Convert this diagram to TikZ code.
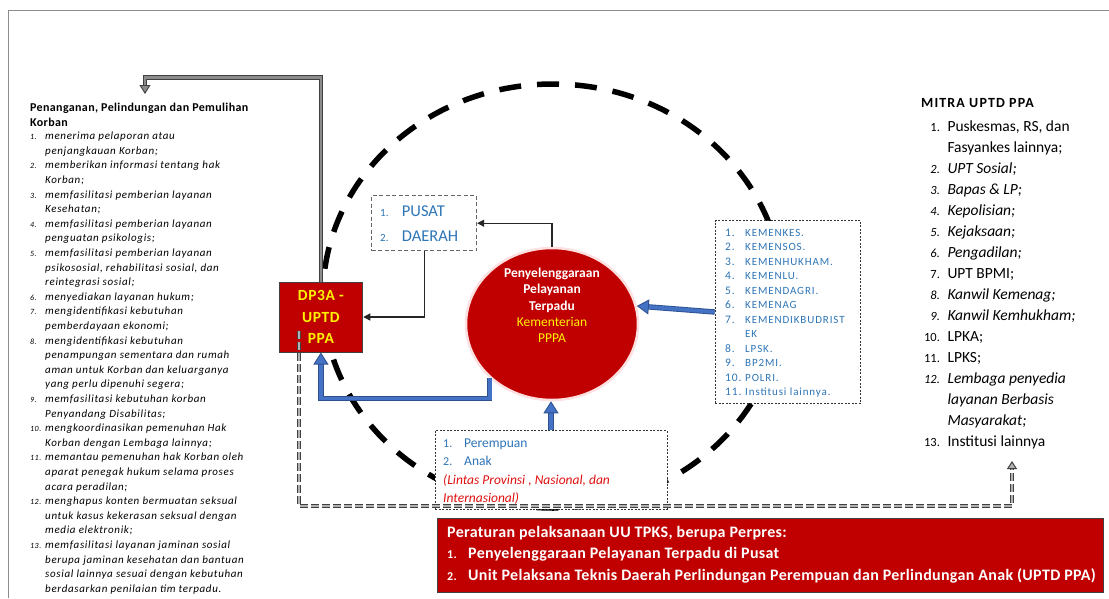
\documentclass[tikz,border=0pt]{standalone}
\usepackage{fontspec}
\setmainfont{Carlito}
\usetikzlibrary{shapes.geometric,arrows.meta,positioning}

\definecolor{ppared}{HTML}{C00000}
\definecolor{ppayellow}{HTML}{FFF200}
\definecolor{ppablue}{HTML}{2E75B6}
\definecolor{arrowblue}{HTML}{4472C4}
\definecolor{arrowbluedark}{HTML}{2F528F}
\definecolor{notered}{HTML}{E01010}

\newcommand{\spaced}[1]{\addfontfeature{LetterSpace=#1}}
\newcommand{\lnum}[1]{\makebox[15pt][l]{\fontsize{8}{9}\selectfont #1}}
\newcommand{\knum}[1]{\makebox[20pt][l]{\fontsize{11.5}{12}\selectfont #1}}
\newcommand{\pnum}[1]{\makebox[21.7pt][l]{\fontsize{11}{12}\selectfont #1}}
\newcommand{\anum}[1]{\makebox[21pt][l]{\fontsize{12}{12}\selectfont #1}}
\newcommand{\bnum}[1]{\makebox[21pt][l]{\fontsize{12}{12}\selectfont #1}}
\newcommand{\mnum}[1]{\makebox[25.6pt][l]{\makebox[18pt][r]{\fontsize{12.5}{14}\selectfont #1}}}

\begin{document}
\begin{tikzpicture}[x=1pt,y=-1pt,
  frame/.style={draw=black!45, line width=0.8pt},
  ring/.style={draw=black, line width=5.5pt, dash pattern=on 22pt off 16pt},
  redbox/.style={draw=black!75, fill=ppared, line width=1pt},
  dashbox/.style={draw=black!60, fill=white, line width=0.9pt, dash pattern=on 4pt off 2.5pt},
  dotbox/.style={draw=black!80, fill=white, line width=0.8pt, dash pattern=on 2pt off 1.5pt},
  listtext/.style={anchor=north west, inner sep=0pt},
  thinarrow/.style={draw=black!85, line width=1.2pt, -{Triangle[width=7pt,length=7pt]}},
  bluepipe/.style={draw=arrowbluedark, double=arrowblue, line width=0.9pt, double distance=3.6pt,
    -{Triangle[width=15pt,length=12pt,fill=arrowblue]}},
  graypipe/.style={draw=black!75, double=black!45, line width=0.9pt, double distance=2.6pt,
    -{Triangle[width=11pt,length=9pt,fill=black!45]}},
  graydash/.style={draw=black!75, double=gray!60, line width=1pt, double distance=2.8pt,
    dash pattern=on 8pt off 3pt, -{Triangle[width=10pt,length=8pt,fill=gray!60]}}]
\useasboundingbox (0,0) rectangle (1109,598);
\draw[frame] (8,598) -- (8,10) -- (1109,10);

% dashed ring round the centre
\draw[ring] (553,296) ellipse [x radius=230, y radius=212];

% left column
\node[listtext, font=\fontsize{12}{15}\selectfont\bfseries\spaced{3}] (penanganan) at (30,100.5)
  {\begin{tabular}{@{}l@{}}Penanganan, Pelindungan dan Pemulihan\\Korban\end{tabular}};
\node[listtext, font=\fontsize{11}{14.6}\selectfont\itshape\spaced{6}] (tugas) at (30,129.3) {%
\begin{tabular}{@{}l@{}l@{}}
\lnum{1.} & menerima pelaporan atau\\
 & penjangkauan Korban;\\
\lnum{2.} & memberikan informasi tentang hak\\
 & Korban;\\
\lnum{3.} & memfasilitasi pemberian layanan\\
 & Kesehatan;\\
\lnum{4.} & memfasilitasi pemberian layanan\\
 & penguatan psikologis;\\
\lnum{5.} & memfasilitasi pemberian layanan\\
 & psikososial, rehabilitasi sosial, dan\\
 & reintegrasi sosial;\\
\lnum{6.} & menyediakan layanan hukum;\\
\lnum{7.} & mengidentifikasi kebutuhan\\
 & pemberdayaan ekonomi;\\
\lnum{8.} & mengidentifikasi kebutuhan\\
 & penampungan sementara dan rumah\\
 & aman untuk Korban dan keluarganya\\
 & yang perlu dipenuhi segera;\\
\lnum{9.} & memfasilitasi kebutuhan korban\\
 & Penyandang Disabilitas;\\
\lnum{10.} & mengkoordinasikan pemenuhan Hak\\
 & Korban dengan Lembaga lainnya;\\
\lnum{11.} & memantau pemenuhan hak Korban oleh\\
 & aparat penegak hukum selama proses\\
 & acara peradilan;\\
\lnum{12.} & menghapus konten bermuatan seksual\\
 & untuk kasus kekerasan seksual dengan\\
 & media elektronik;\\
\lnum{13.} & memfasilitasi layanan jaminan sosial\\
 & berupa jaminan kesehatan dan bantuan\\
 & sosial lainnya sesuai dengan kebutuhan\\
 & berdasarkan penilaian tim terpadu.
\end{tabular}};
\coordinate (handin) at (145,94);

% DP3A - UPTD PPA
\node[redbox, minimum width=83.7pt, minimum height=70pt, text=ppayellow, align=center,
  font=\fontsize{15.5}{21.5}\selectfont\bfseries\spaced{4}] (dp3a) at (320.9,317) {DP3A -\\UPTD\\PPA};

% pusat / daerah
\node[dashbox, minimum width=105pt, minimum height=55pt] (pusat) at (424.2,223.2) {};
\node[listtext, text=ppablue, font=\fontsize{16.5}{24.5}\selectfont] (pusatlist) at (380,199.35)
  {\begin{tabular}{@{}l@{}l@{}}\pnum{1.} & PUSAT\\\pnum{2.} & DAERAH\end{tabular}};

% centre
\node[ellipse, fill=ppared, draw=red!12, line width=2.5pt, minimum width=172pt,
  minimum height=152pt, inner sep=0pt] (ptp) at (552,324) {};
\node[align=center, inner sep=0pt, text=white, font=\fontsize{13.5}{16.25}\selectfont] (ptptext) at (552,305.5)
  {\textbf{Penyelenggaraan}\\\textbf{Pelayanan}\\\textbf{Terpadu}\\
   \textcolor{ppayellow}{Kementerian}\\\textcolor{ppayellow}{PPPA}};

% kementerian / lembaga
\node[dotbox, minimum width=145.7pt, minimum height=182.6pt] (kemen) at (787.9,312) {};
\node[listtext, text=ppablue, font=\fontsize{11}{14.5}\selectfont\spaced{8}] (kemenlist) at (725,225.85) {%
\begin{tabular}{@{}l@{}l@{}}
\knum{1.} & KEMENKES.\\
\knum{2.} & KEMENSOS.\\
\knum{3.} & KEMENHUKHAM.\\
\knum{4.} & KEMENLU.\\
\knum{5.} & KEMENDAGRI.\\
\knum{6.} & KEMENAG\\
\knum{7.} & KEMENDIKBUDRIST\\
 & EK\\
\knum{8.} & LPSK.\\
\knum{9.} & BP2MI.\\
\knum{10.} & POLRI.\\
\knum{11.} & Institusi lainnya.
\end{tabular}};

% perempuan / anak
\node[dotbox, minimum width=232pt, minimum height=78.3pt] (korban) at (551,469.85) {};
\node[listtext, text=ppablue, font=\fontsize{13.5}{18.6}\selectfont] (korbanlist) at (443,433.8) {%
\begin{tabular}{@{}l@{}l@{}}
\anum{1.} & Perempuan\\
\anum{2.} & Anak\\
\multicolumn{2}{@{}l@{}}{\color{notered}\itshape (Lintas Provinsi , Nasional, dan}\\
\multicolumn{2}{@{}l@{}}{\color{notered}\itshape Internasional)}
\end{tabular}};

% right column
\node[anchor=base west, inner sep=0pt, font=\fontsize{14}{15}\selectfont\bfseries\spaced{8}] (mitra) at (921,107.5) {MITRA UPTD PPA};
\node[listtext, font=\fontsize{15.5}{21}\selectfont] (mitralist) at (921.7,116.8) {%
\begin{tabular}{@{}l@{}l@{}}
\mnum{1.} & Puskesmas, RS, dan\\
 & Fasyankes lainnya;\\
\mnum{\itshape 2.} & \itshape UPT Sosial;\\
\mnum{\itshape 3.} & \itshape Bapas \& LP;\\
\mnum{\itshape 4.} & \itshape Kepolisian;\\
\mnum{\itshape 5.} & \itshape Kejaksaan;\\
\mnum{\itshape 6.} & \itshape Pengadilan;\\
\mnum{7.} & UPT BPMI;\\
\mnum{\itshape 8.} & \itshape Kanwil Kemenag;\\
\mnum{\itshape 9.} & \itshape Kanwil Kemhukham;\\
\mnum{10.} & LPKA;\\
\mnum{11.} & LPKS;\\
\mnum{\itshape 12.} & \itshape Lembaga penyedia\\
 & \itshape layanan Berbasis\\
 & \itshape Masyarakat;\\
\mnum{13.} & Institusi lainnya
\end{tabular}};
\coordinate (mitrain) at (1012,461);

% perpres box
\node[redbox, minimum width=666pt, minimum height=74pt] (perpres) at (770,555) {};
\node[listtext, text=white, font=\fontsize{16}{21.5}\selectfont\bfseries\spaced{2}] (perpreslist) at (447,522) {%
\begin{tabular}{@{}l@{}l@{}}
\multicolumn{2}{@{}l@{}}{Peraturan pelaksanaan UU TPKS, berupa Perpres:}\\
\bnum{1.} & Penyelenggaraan Pelayanan Terpadu di Pusat\\
\bnum{2.} & Unit Pelaksana Teknis Daerah Perlindungan Perempuan dan Perlindungan Anak (UPTD PPA)
\end{tabular}};

% connectors
\coordinate (dashstart) at (299,331);
\coordinate (blcorner) at ([yshift=-46pt]dp3a.south);
\draw[graypipe] (dp3a.north) -- ++(0,-204) -| (handin);
\draw[thinarrow] (ptp.north) |- (pusat.east);
\draw[thinarrow] (pusat.south) |- (dp3a.east);
\draw[bluepipe] (kemen.west) -- (ptp.12);
\draw[bluepipe] (korban.north) -- (korban.north |- ptp.south);
\draw[bluepipe] (ptp.221) |- (blcorner) -- (dp3a.south);
\draw[graydash] (dashstart) -- ++(0,175) -| (mitrain);
\end{tikzpicture}
\end{document}
